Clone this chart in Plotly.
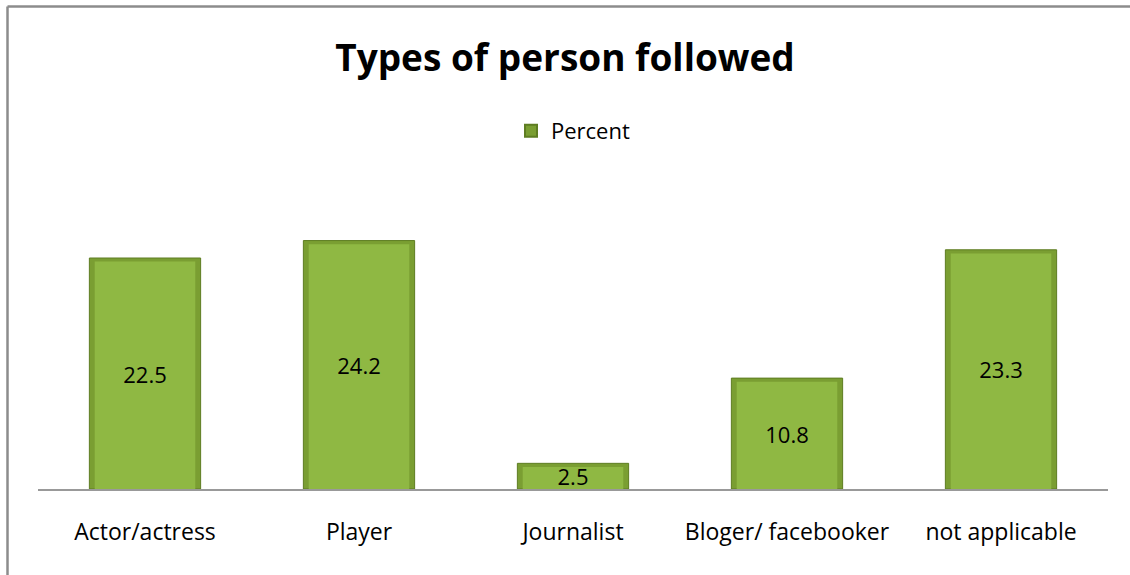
import plotly.graph_objects as go

# Survey results: types of person followed
categories = ["Actor/actress", "Player", "Journalist", "Bloger/ facebooker", "not applicable"]
percent = [22.5, 24.2, 2.5, 10.8, 23.3]

W, H = 1130, 575
M_L, M_R, M_T, M_B = 38, 22, 181, 86
plot_w = W - M_L - M_R
plot_h = H - M_T - M_B

FONT = "Open Sans"

fig = go.Figure()

# outer bar: darker bevel edge
fig.add_trace(go.Bar(
    x=categories, y=percent, name="Percent",
    width=0.52,
    marker=dict(color="#7a9e32", line=dict(color="#5e7d22", width=1)),
    showlegend=True, hoverinfo="skip",
))
# inner face of each bar
fig.add_trace(go.Bar(
    x=categories, y=[v - 0.35 for v in percent], base=0,
    width=0.47,
    marker=dict(color="#8fb843", line=dict(width=0)),
    showlegend=False, hoverinfo="skip",
))
# value labels centred on the full bar
fig.add_trace(go.Bar(
    x=categories, y=percent, width=0.52,
    marker=dict(color="rgba(0,0,0,0)", line=dict(width=0)),
    text=[f"{v:.1f}" for v in percent],
    textposition="inside", insidetextanchor="middle",
    textfont=dict(family=FONT, size=22, color="#000000"),
    constraintext="none", cliponaxis=False,
    showlegend=False, hoverinfo="skip",
))

# chart border (left and top edges)
bx = (7.5 - M_L) / plot_w
by = (H - M_B - 6.5) / plot_h
fig.add_shape(type="line", xref="paper", yref="paper",
              x0=bx, x1=1.2, y0=by, y1=by,
              line=dict(color="#8c8c8c", width=2.5))
fig.add_shape(type="line", xref="paper", yref="paper",
              x0=bx, x1=bx, y0=by, y1=-0.5,
              line=dict(color="#8c8c8c", width=2.5))

fig.update_layout(
    width=W, height=H,
    margin=dict(l=M_L, r=M_R, t=M_T, b=M_B),
    paper_bgcolor="white", plot_bgcolor="white",
    barmode="overlay",
    title=dict(text="<b>Types of person followed</b>",
               font=dict(family=FONT, size=37, color="#000000"),
               x=0.5, xanchor="center", y=1 - 58 / H, yanchor="middle"),
    legend=dict(orientation="h", x=0.5, xanchor="center",
                y=1 - 131 / H, yanchor="middle", yref="container",
                font=dict(family=FONT, size=22, color="#000000"),
                itemsizing="constant", itemwidth=30),
    xaxis=dict(showline=True, linecolor="#999999", linewidth=2,
               ticks="", showgrid=False, ticklabelstandoff=21,
               tickfont=dict(family=FONT, size=23, color="#000000")),
    yaxis=dict(range=[0, 30], visible=False, showgrid=False),
)

fig.write_html("out.html")
